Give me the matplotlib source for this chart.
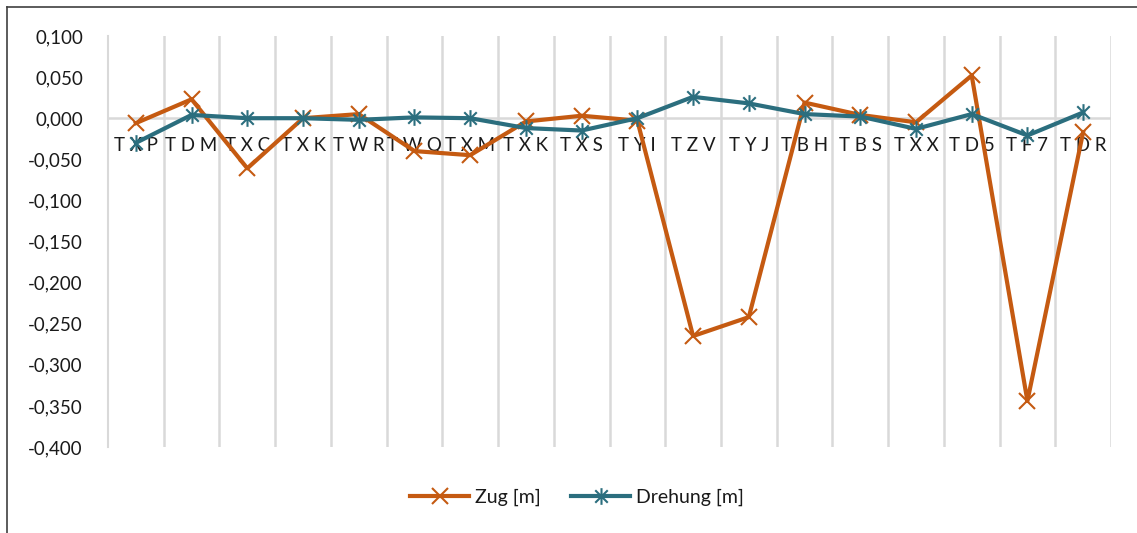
import matplotlib
matplotlib.use("Agg")
import matplotlib.pyplot as plt
from matplotlib.path import Path
from matplotlib.lines import Line2D

categories = ["TXP", "TDM", "TXC", "TXK", "TWR", "TWQ", "TXM", "TXK", "TXS",
              "TYI", "TZV", "TYJ", "TBH", "TBS", "TXX", "TD5", "TF7", "TDR"]
zug = [-0.006, 0.023, -0.061, 0.000, 0.005, -0.040, -0.045, -0.004, 0.003,
       -0.003, -0.265, -0.242, 0.019, 0.004, -0.005, 0.052, -0.344, -0.017]
drehung = [-0.030, 0.004, 0.000, 0.000, -0.002, 0.001, 0.000, -0.012, -0.015,
           0.000, 0.026, 0.018, 0.005, 0.002, -0.013, 0.005, -0.021, 0.007]
y_ticks = [0.100, 0.050, 0.000, -0.050, -0.100, -0.150, -0.200, -0.250,
           -0.300, -0.350, -0.400]

ORANGE = "#C55A11"
TEAL = "#2B6E7E"
GRID = "#D9D9D9"
TEXT = "#1a1a1a"

plt.rcParams["font.family"] = ["Lato", "DejaVu Sans"]
plt.rcParams["text.color"] = TEXT

W, H, DPI = 1137, 533, 100
fig = plt.figure(figsize=(W / DPI, H / DPI), dpi=DPI)
ax = fig.add_axes([108 / W, 1 - 447 / H, (1111 - 108) / W, (447 - 36) / H])

# asterisk marker: vertical bar plus a diagonal cross
star = Path([(0, -1), (0, 1), (-0.75, -0.75), (0.75, 0.75), (-0.75, 0.75), (0.75, -0.75)],
            [Path.MOVETO, Path.LINETO, Path.MOVETO, Path.LINETO, Path.MOVETO, Path.LINETO])

x = list(range(len(categories)))
ax.plot(x, zug, color=ORANGE, lw=3.0, marker="x", ms=11, mew=1.5,
        label="Zug [m]", zorder=3)
ax.plot(x, drehung, color=TEAL, lw=3.0, marker=star, ms=12, mew=1.5,
        label="Drehung [m]", zorder=4)

ax.set_xlim(-0.5, len(categories) - 0.5)
ax.set_ylim(-0.4, 0.1)

# vertical separators between categories
for k in range(1, len(categories) + 1):
    ax.axvline(k - 0.5, color=GRID, lw=1.8, zorder=1)
ax.axhline(0, color=GRID, lw=1.8, zorder=1)

for s in ["top", "right", "bottom"]:
    ax.spines[s].set_visible(False)
ax.spines["left"].set_color(GRID)
ax.spines["left"].set_linewidth(1.5)

ax.set_xticks([])
ax.set_yticks(y_ticks)
ax.set_yticklabels([f"{v:.3f}".replace(".", ",") for v in y_ticks], fontsize=13.5,
                   color=TEXT)
ax.tick_params(axis="y", length=0, pad=18)

for i, c in enumerate(categories):
    ax.annotate(" ".join(c), xy=(i, 0), xytext=(0, -20), textcoords="offset points",
                ha="center", va="center", fontsize=13.5, color=TEXT, zorder=2)

leg = fig.legend(loc="center", bbox_to_anchor=(577 / W, 1 - 497 / H), ncol=2,
                 frameon=False, fontsize=14, handlelength=3.0, columnspacing=1.6,
                 handletextpad=0.3)

# outer chart border (left and top edges)
fig.add_artist(Line2D([7 / W, 7 / W], [0, 1 - 7 / H], transform=fig.transFigure,
                      color="#404040", lw=1.2))
fig.add_artist(Line2D([7 / W, 1], [1 - 7 / H, 1 - 7 / H], transform=fig.transFigure,
                      color="#404040", lw=1.2))

fig.savefig("out.png", dpi=DPI)
